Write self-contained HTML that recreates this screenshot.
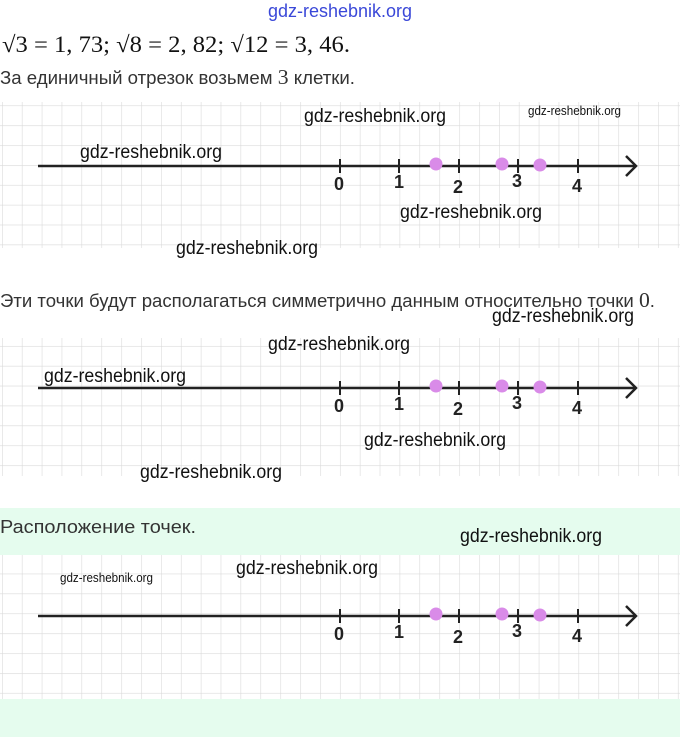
<!DOCTYPE html>
<html><head><meta charset="utf-8"><style>
body{margin:0;background:#fff;width:680px;height:737px;overflow:hidden}
svg{display:block}
.wm{font-family:"Liberation Sans",sans-serif;font-size:19px;fill:#111}
.sm{font-size:13px}
.t{font-family:"Liberation Sans",sans-serif;font-size:18px;fill:#333}
.n{font-family:"Liberation Sans",sans-serif;font-size:18px;fill:#222;font-weight:bold}
</style></head><body>
<svg width="680" height="737" viewBox="0 0 680 737" xmlns="http://www.w3.org/2000/svg">
<defs>
<pattern id="g1" patternUnits="userSpaceOnUse" x="2" y="6" width="19.88" height="19.88"><path d="M0 0H19.88M0 0V19.88" stroke="#dadada" stroke-width="1.2" fill="none"/></pattern>
<pattern id="g2" patternUnits="userSpaceOnUse" x="2" y="8" width="19.88" height="19.88"><path d="M0 0H19.88M0 0V19.88" stroke="#dadada" stroke-width="1.2" fill="none"/></pattern>
<pattern id="g3" patternUnits="userSpaceOnUse" x="2" y="17" width="19.88" height="19.88"><path d="M0 0H19.88M0 0V19.88" stroke="#dadada" stroke-width="1.2" fill="none"/></pattern>
<g id="axis">
<line x1="38" y1="0" x2="636" y2="0" stroke="#222" stroke-width="2.5"/>
<path d="M626 -10L636 0L626 10" stroke="#222" stroke-width="2.5" fill="none"/>
<g stroke="#222" stroke-width="2"><line x1="340" y1="-7" x2="340" y2="7"/><line x1="399" y1="-7" x2="399" y2="7"/><line x1="459" y1="-7" x2="459" y2="7"/><line x1="518" y1="-7" x2="518" y2="7"/><line x1="578" y1="-7" x2="578" y2="7"/></g>
<g fill="#d98be8"><circle cx="436" cy="-2" r="6.5"/><circle cx="502" cy="-2" r="6.5"/><circle cx="540" cy="-1" r="6.5"/></g>
<text class="n" x="334" y="24">0</text><text class="n" x="394" y="22">1</text><text class="n" x="453" y="27">2</text><text class="n" x="512" y="21">3</text><text class="n" x="572" y="26">4</text>
</g>
</defs>
<text x="268" y="17" font-family="Liberation Sans,sans-serif" font-size="18" fill="#3a48d8" textLength="144" lengthAdjust="spacingAndGlyphs">gdz-reshebnik.org</text>
<text x="2" y="52" font-family="Liberation Serif,serif" font-size="23" fill="#111" textLength="348" lengthAdjust="spacingAndGlyphs">√3 = 1, 73;  √8 = 2, 82;  √12 = 3, 46.</text>
<text class="t" x="0" y="84" textLength="355" lengthAdjust="spacingAndGlyphs">За единичный отрезок возьмем <tspan font-family="Liberation Serif,serif" font-size="21">3</tspan> клетки.</text>
<rect x="0" y="102" width="680" height="146" fill="url(#g1)"/>
<use href="#axis" transform="translate(0,166)"/>
<g lengthAdjust="spacingAndGlyphs">
<text class="wm" x="304" y="122" textLength="142" lengthAdjust="spacingAndGlyphs">gdz-reshebnik.org</text>
<text class="wm sm" x="528" y="115" textLength="93" lengthAdjust="spacingAndGlyphs">gdz-reshebnik.org</text>
<text class="wm" x="80" y="158" textLength="142" lengthAdjust="spacingAndGlyphs">gdz-reshebnik.org</text>
<text class="wm" x="400" y="218" textLength="142" lengthAdjust="spacingAndGlyphs">gdz-reshebnik.org</text>
<text class="wm" x="176" y="254" textLength="142" lengthAdjust="spacingAndGlyphs">gdz-reshebnik.org</text>
</g>
<text class="t" x="0" y="307" textLength="655" lengthAdjust="spacingAndGlyphs">Эти точки будут располагаться симметрично данным относительно точки <tspan font-family="Liberation Serif,serif" font-size="21">0</tspan>.</text>
<rect x="0" y="338" width="680" height="138" fill="url(#g2)"/>
<use href="#axis" transform="translate(0,388)"/>
<text class="wm" x="492" y="322" textLength="142" lengthAdjust="spacingAndGlyphs">gdz-reshebnik.org</text>
<text class="wm" x="268" y="350" textLength="142" lengthAdjust="spacingAndGlyphs">gdz-reshebnik.org</text>
<text class="wm" x="44" y="382" textLength="142" lengthAdjust="spacingAndGlyphs">gdz-reshebnik.org</text>
<text class="wm" x="364" y="446" textLength="142" lengthAdjust="spacingAndGlyphs">gdz-reshebnik.org</text>
<text class="wm" x="140" y="478" textLength="142" lengthAdjust="spacingAndGlyphs">gdz-reshebnik.org</text>
<rect x="0" y="508" width="680" height="229" fill="#e5fcee"/>
<rect x="0" y="555" width="680" height="144" fill="#fff"/>
<rect x="0" y="555" width="680" height="144" fill="url(#g3)"/>
<use href="#axis" transform="translate(0,616)"/>
<text class="t" x="0" y="533" textLength="196" lengthAdjust="spacingAndGlyphs">Расположение точек.</text>
<text class="wm" x="460" y="542" textLength="142" lengthAdjust="spacingAndGlyphs">gdz-reshebnik.org</text>
<text class="wm" x="236" y="574" textLength="142" lengthAdjust="spacingAndGlyphs">gdz-reshebnik.org</text>
<text class="wm sm" x="60" y="582" textLength="93" lengthAdjust="spacingAndGlyphs">gdz-reshebnik.org</text>
</svg>
</body></html>
